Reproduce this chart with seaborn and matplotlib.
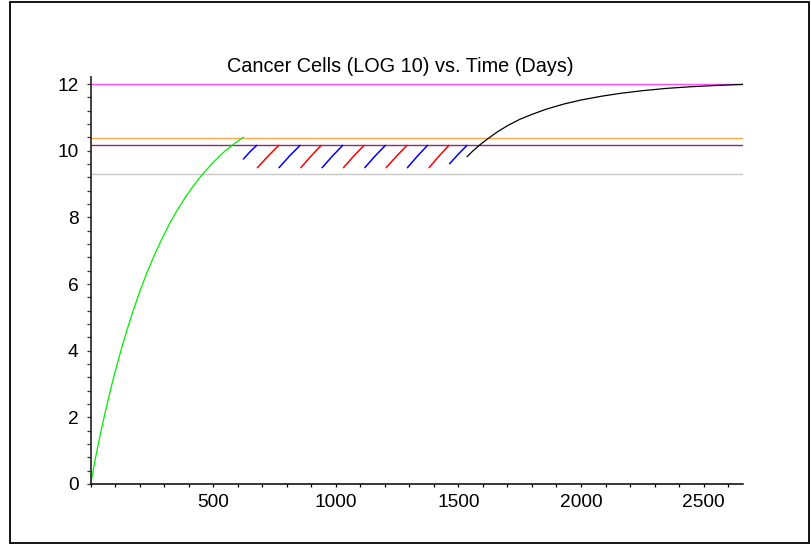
import matplotlib
matplotlib.use("Agg")
import matplotlib.pyplot as plt
from matplotlib.patches import Rectangle
from matplotlib.ticker import MultipleLocator, FixedLocator
import seaborn as sns

# ---- data ----
title = "Cancer Cells (LOG 10) vs. Time (Days)"

green_days = [0, 20, 40, 60, 80, 100, 125, 150, 175, 200, 230, 260, 290, 320,
              350, 385, 420, 460, 500, 540, 580, 623]
green_vals = [0.0, 0.80, 1.52, 2.18, 2.80, 3.38, 4.05, 4.67, 5.24, 5.77, 6.35,
              6.87, 7.35, 7.79, 8.18, 8.59, 8.96, 9.33, 9.65, 9.94, 10.18, 10.41]

black_days = [1535, 1560, 1590, 1620, 1660, 1700, 1750, 1800, 1860, 1930, 2000,
              2080, 2160, 2250, 2350, 2450, 2560, 2662]
black_vals = [9.82, 10.00, 10.19, 10.36, 10.57, 10.75, 10.94, 11.09, 11.25,
              11.40, 11.52, 11.63, 11.72, 11.80, 11.87, 11.92, 11.96, 11.99]

seg_days = [
    [623, 650, 677],
    [680, 724, 767],
    [768, 811, 854],
    [857, 899, 940],
    [944, 986, 1028],
    [1031, 1073, 1115],
    [1118, 1160, 1202],
    [1205, 1248, 1290],
    [1292, 1333, 1374],
    [1380, 1421, 1461],
    [1464, 1500, 1535],
]
seg_vals = [
    [9.75, 9.97, 10.16],
    [9.49, 9.84, 10.16],
    [9.49, 9.84, 10.16],
    [9.49, 9.84, 10.16],
    [9.49, 9.84, 10.16],
    [9.49, 9.84, 10.16],
    [9.49, 9.84, 10.16],
    [9.49, 9.84, 10.16],
    [9.49, 9.84, 10.16],
    [9.49, 9.84, 10.16],
    [9.61, 9.90, 10.16],
]
seg_colors = ["#0000FF", "#FF0000"] * 5 + ["#0000FF"]

hline_vals = [12.0, 10.38, 10.16, 9.29]
hline_colors = ["#FF4DFF", "#FFA64D", "#8C2A78", "#C8C8C8"]
x_max = 2662

x_ticks = [500, 1000, 1500, 2000, 2500]
y_ticks = [0, 2, 4, 6, 8, 10, 12]

# ---- figure ----
sns.set_style("white")
plt.rcParams["font.family"] = ["Liberation Sans", "DejaVu Sans"]

W, H = 811, 544
fig = plt.figure(figsize=(W / 100, H / 100), dpi=100)
ax = fig.add_axes([90.7 / W, 1 - 484 / H, (743.3 - 90.7) / W, (484 - 76.7) / H])

for v, c in zip(hline_vals, hline_colors):
    sns.lineplot(x=[0, x_max], y=[v, v], color=c, linewidth=1.0, ax=ax)

sns.lineplot(x=green_days, y=green_vals, color="#00EE00", linewidth=0.9, ax=ax,
             sort=False, estimator=None)
for d, v, c in zip(seg_days, seg_vals, seg_colors):
    sns.lineplot(x=d, y=v, color=c, linewidth=1.1, ax=ax, sort=False, estimator=None)
sns.lineplot(x=black_days, y=black_vals, color="black", linewidth=0.9, ax=ax,
             sort=False, estimator=None)

ax.set_xlim(0, x_max)
ax.set_ylim(0, 12.22)
ax.set_xlabel("")
ax.set_ylabel("")

for s in ["top", "right"]:
    ax.spines[s].set_visible(False)
ax.spines["left"].set_color("#333333")
ax.spines["left"].set_linewidth(1.3)
ax.spines["bottom"].set_color("black")
ax.spines["bottom"].set_linewidth(1.1)

ax.xaxis.set_major_locator(FixedLocator(x_ticks))
ax.set_xticklabels([str(t) for t in x_ticks])
ax.xaxis.set_minor_locator(MultipleLocator(100))
ax.yaxis.set_major_locator(FixedLocator(y_ticks))
ax.set_yticklabels([str(t) for t in y_ticks])
ax.yaxis.set_minor_locator(MultipleLocator(0.4))

ax.tick_params(axis="x", which="both", direction="out", length=2.5, width=0.9,
               color="black", pad=4.5, labelsize=13.8, bottom=True)
ax.tick_params(axis="y", which="both", direction="out", length=3.2, width=0.9,
               color="#333333", pad=5.5, labelsize=13.8, left=True)
for lab in ax.get_xticklabels() + ax.get_yticklabels():
    lab.set_color("black")

fig.text(400 / W, 1 - 66 / H, title, ha="center", va="center", fontsize=14.3,
         color="black")

fig.patches.append(Rectangle((9.5 / W, 1.5 / H), (809 - 9.5) / W, (542.5 - 1.5) / H,
                             transform=fig.transFigure, fill=False,
                             edgecolor="black", linewidth=1.3))

fig.savefig("out.png", dpi=100)
